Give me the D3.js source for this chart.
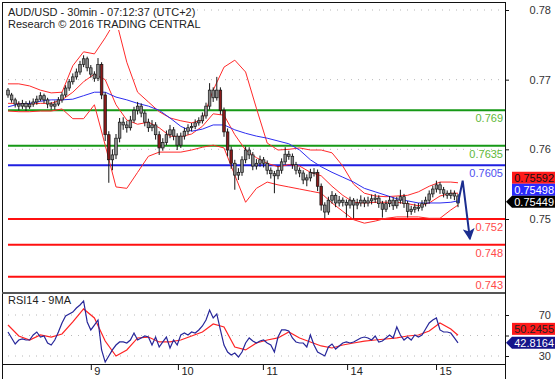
<!DOCTYPE html>
<html><head><meta charset="utf-8">
<script src="https://cdnjs.cloudflare.com/ajax/libs/d3/7.8.5/d3.min.js"></script>
<style>
html,body{margin:0;padding:0;background:#fff;}
svg{display:block;font-family:"Liberation Sans",Arial,sans-serif;}
</style></head>
<body><svg id="c" width="558" height="379"></svg>
<script>
// ---------- data ----------
const titleLines = ["AUD/USD - 30min - 07:12:37 (UTC+2)", "Research \u00A9 2016 TRADING CENTRAL"];
const rsiTitle = "RSI14 - 9MA";
const priceTicks = [0.75, 0.76, 0.77, 0.78];
const rsiTicks = [30, 50, 70];
const rsiTickLabels = [30, 70];
const dayTickIdx = [23, 47.2, 70.8, 94.2, 118.9];
const dayLabels = ["9", "10", "11", "14", "15"];

const open = [0.7685,0.7678,0.7671,0.7665,0.7662,0.7666,0.7661,0.7665,0.7668,0.7672,
0.7677,0.7671,0.7665,0.7662,0.7665,0.7671,0.7678,0.7688,0.7697,0.7704,
0.7711,0.7722,0.7730,0.7717,0.7708,0.7702,0.7722,0.7678,0.7621,0.7585,
0.7592,0.7616,0.7639,0.7635,0.7631,0.7642,0.7656,0.7662,0.7652,0.7639,
0.7631,0.7635,0.7621,0.7602,0.7610,0.7621,0.7628,0.7619,0.7606,0.7619,
0.7626,0.7631,0.7633,0.7638,0.7641,0.7648,0.7662,0.7685,0.7674,0.7685,
0.7656,0.7625,0.7599,0.7580,0.7563,0.7567,0.7585,0.7599,0.7592,0.7576,
0.7580,0.7585,0.7580,0.7570,0.7565,0.7562,0.7570,0.7582,0.7593,0.7590,
0.7578,0.7570,0.7566,0.7556,0.7559,0.7567,0.7567,0.7547,0.7520,0.7510,
0.7527,0.7534,0.7523,0.7527,0.7524,0.7520,0.7527,0.7520,0.7523,0.7527,
0.7523,0.7526,0.7529,0.7530,0.7522,0.7514,0.7522,0.7527,0.7519,0.7527,
0.7532,0.7522,0.7511,0.7514,0.7517,0.7517,0.7522,0.7527,0.7536,0.7543,
0.7549,0.7542,0.7537,0.7534,0.7537,0.7533];
const close = [0.7678,0.7671,0.7665,0.7662,0.7666,0.7661,0.7665,0.7668,0.7672,0.7677,
0.7671,0.7665,0.7662,0.7665,0.7671,0.7678,0.7688,0.7697,0.7704,0.7711,
0.7722,0.7730,0.7717,0.7708,0.7702,0.7722,0.7678,0.7621,0.7585,0.7592,
0.7616,0.7639,0.7635,0.7631,0.7642,0.7656,0.7662,0.7652,0.7639,0.7631,
0.7635,0.7621,0.7602,0.7610,0.7621,0.7628,0.7619,0.7606,0.7619,0.7626,
0.7631,0.7633,0.7638,0.7641,0.7648,0.7662,0.7685,0.7674,0.7685,0.7656,
0.7625,0.7599,0.7580,0.7563,0.7567,0.7585,0.7599,0.7592,0.7576,0.7580,
0.7585,0.7580,0.7570,0.7565,0.7562,0.7570,0.7582,0.7593,0.7590,0.7578,
0.7570,0.7566,0.7556,0.7559,0.7567,0.7567,0.7547,0.7520,0.7510,0.7527,
0.7534,0.7523,0.7527,0.7524,0.7520,0.7527,0.7520,0.7523,0.7527,0.7523,
0.7526,0.7529,0.7530,0.7522,0.7514,0.7522,0.7527,0.7519,0.7527,0.7532,
0.7522,0.7511,0.7514,0.7517,0.7517,0.7522,0.7527,0.7536,0.7543,0.7549,
0.7542,0.7537,0.7534,0.7537,0.7533,0.7523];
const high = [0.7688,0.7681,0.7674,0.7669,0.7671,0.7669,0.7670,0.7673,0.7677,0.7682,
0.7680,0.7674,0.7668,0.7670,0.7675,0.7682,0.7692,0.7701,0.7709,0.7716,
0.7727,0.7735,0.7733,0.7721,0.7712,0.7731,0.7725,0.7682,0.7626,0.7600,
0.7622,0.7645,0.7646,0.7641,0.7648,0.7661,0.7668,0.7666,0.7656,0.7644,
0.7642,0.7639,0.7626,0.7616,0.7627,0.7635,0.7632,0.7623,0.7624,0.7631,
0.7636,0.7638,0.7643,0.7646,0.7653,0.7667,0.7695,0.7689,0.7704,0.7689,
0.7660,0.7630,0.7604,0.7585,0.7573,0.7590,0.7604,0.7603,0.7596,0.7586,
0.7591,0.7589,0.7584,0.7574,0.7569,0.7576,0.7587,0.7603,0.7598,0.7594,
0.7582,0.7574,0.7570,0.7564,0.7572,0.7573,0.7571,0.7551,0.7524,0.7532,
0.7540,0.7537,0.7533,0.7531,0.7528,0.7532,0.7530,0.7529,0.7534,0.7531,
0.7532,0.7535,0.7536,0.7534,0.7526,0.7527,0.7533,0.7531,0.7532,0.7542,
0.7536,0.7526,0.7519,0.7522,0.7523,0.7527,0.7532,0.7541,0.7548,0.7555,
0.7553,0.7546,0.7541,0.7542,0.7541,0.7536];
const low = [0.7674,0.7667,0.7660,0.7656,0.7658,0.7655,0.7658,0.7661,0.7664,0.7669,
0.7666,0.7659,0.7657,0.7657,0.7662,0.7667,0.7675,0.7684,0.7693,0.7700,
0.7707,0.7718,0.7712,0.7703,0.7697,0.7698,0.7672,0.7612,0.7552,0.7570,
0.7586,0.7610,0.7628,0.7624,0.7627,0.7638,0.7650,0.7646,0.7633,0.7625,
0.7626,0.7614,0.7592,0.7598,0.7606,0.7616,0.7613,0.7599,0.7602,0.7614,
0.7621,0.7626,0.7629,0.7634,0.7637,0.7644,0.7657,0.7668,0.7670,0.7650,
0.7618,0.7590,0.7572,0.7542,0.7556,0.7562,0.7580,0.7586,0.7570,0.7571,
0.7575,0.7574,0.7564,0.7558,0.7537,0.7557,0.7565,0.7578,0.7585,0.7572,
0.7564,0.7560,0.7550,0.7547,0.7554,0.7561,0.7540,0.7512,0.7501,0.7506,
0.7522,0.7517,0.7518,0.7518,0.7502,0.7515,0.7501,0.7514,0.7518,0.7517,
0.7518,0.7521,0.7523,0.7516,0.7502,0.7510,0.7517,0.7513,0.7515,0.7522,
0.7516,0.7502,0.7506,0.7509,0.7511,0.7512,0.7518,0.7522,0.7531,0.7538,
0.7536,0.7531,0.7529,0.7529,0.7527,0.7517];

// indicator samples (every 3rd bar, plus the last one)
const bandIdx = [0,3,6,9,12,15,18,21,24,27,30,33,36,39,42,45,48,51,54,57,60,63,66,69,72,75,78,81,84,87,90,93,96,99,102,105,108,111,114,117,120,123,125];
const bbUpper = [0.7694,0.7694,0.7691,0.7685,0.7681,0.7682,0.7720,0.7740,0.7737,0.7760,
0.7786,0.7725,0.7682,0.7668,0.7654,0.7645,0.7641,0.7638,0.7642,0.7685,
0.7718,0.7728,0.7711,0.7659,0.7609,0.7599,0.7600,0.7602,0.7599,0.7599,
0.7595,0.7576,0.7550,0.7537,0.7533,0.7532,0.7533,0.7534,0.7539,0.7547,
0.7553,0.7553,0.7552];
const bbMiddle = [0.7666,0.7666,0.7665,0.7666,0.7666,0.7671,0.7682,0.7697,0.7708,0.7700,
0.7664,0.7642,0.7636,0.7639,0.7631,0.7619,0.7618,0.7622,0.7633,0.7651,
0.7649,0.7621,0.7599,0.7588,0.7580,0.7575,0.7578,0.7576,0.7567,0.7562,
0.7547,0.7534,0.7524,0.7523,0.7524,0.7524,0.7524,0.7522,0.7519,0.7523,
0.7533,0.7537,0.7537];
const bbLower = [0.7655,0.7654,0.7654,0.7655,0.7655,0.7658,0.7644,0.7644,0.7664,0.7606,
0.7546,0.7544,0.7567,0.7590,0.7596,0.7596,0.7596,0.7599,0.7603,0.7606,
0.7602,0.7563,0.7524,0.7544,0.7553,0.7549,0.7546,0.7543,0.7540,0.7537,
0.7523,0.7511,0.7499,0.7494,0.7497,0.7501,0.7503,0.7503,0.7503,0.7501,
0.7501,0.7513,0.7520];
const maBlue = [0.7661,0.7665,0.7666,0.7669,0.7671,0.7671,0.7672,0.7677,0.7682,0.7682,
0.7675,0.7671,0.7666,0.7662,0.7656,0.7645,0.7633,0.7626,0.7629,0.7635,
0.7635,0.7628,0.7623,0.7619,0.7616,0.7612,0.7608,0.7599,0.7585,0.7575,
0.7567,0.7560,0.7553,0.7544,0.7539,0.7534,0.7529,0.7526,0.7523,0.7523,
0.7523,0.7524,0.7526];

const rsi = [53.4,47.6,41.7,45.6,46.6,45.6,45.6,50.5,53.4,48.5,
49.5,42.7,40.7,45.6,53.4,62.2,69.0,71.0,72.9,76.8,
79.8,83.7,63.2,55.4,60.2,65.1,35.9,24.1,30.0,35.9,
40.7,43.7,43.7,42.7,45.6,52.4,45.6,47.6,49.5,48.5,
40.7,48.5,38.8,43.7,48.5,37.8,45.6,40.7,50.5,52.4,
50.5,53.4,52.4,55.4,59.3,65.1,74.9,67.1,71.0,55.4,
40.7,33.9,31.0,32.9,29.0,33.9,42.7,47.6,44.6,42.7,
44.6,45.6,42.7,40.7,33.9,48.5,55.4,55.4,54.4,47.6,
43.7,42.7,42.7,38.8,50.5,40.7,33.9,32.0,30.0,38.8,
41.7,36.8,39.8,42.7,43.7,42.7,43.7,45.6,47.6,48.5,
47.6,45.6,49.5,43.7,44.6,47.6,50.5,47.6,58.3,50.5,
45.6,48.5,45.6,50.5,48.5,50.5,56.3,62.2,65.1,67.1,
55.4,53.4,53.4,52.4,47.6,42.8];
const rsiMA = [60.2,49.5,45.6,50.5,48.5,51.5,63.2,75.9,67.1,44.6,
30.0,35.9,47.6,48.5,43.7,43.7,45.6,49.5,53.4,61.2,
58.3,38.8,35.9,42.7,45.6,47.6,53.4,47.6,43.7,39.8,
37.8,40.7,42.7,44.6,45.6,46.6,47.6,49.5,50.5,54.4,
62.2,56.3,50.2];

const levelLabels = ["0.769", "0.7635", "0.7605", "0.752", "0.748", "0.743"];
const levelAt = [0.7656, 0.7605, 0.7577, 0.7500, 0.7463, 0.7417];
const levelKind = ["res", "res", "pivot", "sup", "sup", "sup"];

const priceTagValues = [0.75592, 0.75498, 0.75449];
const priceTagKind = ["bbUpper", "ma", "last"];
const rsiTagValues = [50.2455, 42.8164];
const rsiTagKind = ["ma", "last"];

const forecastIdx = [125, 126.3, 128.3];
const forecastPrice = [0.7523, 0.7555, 0.7472];

// ---------- drawing ----------
const svg = d3.select("#c");
const W = 558, H = 379;
const axisX = 505, plotL = 3;
const mainTop = 2, mainBot = 292, rsiTop = 294, rsiBot = 364;

const x = d3.scaleLinear().domain([0, 125]).range([8, 458]);
const y = d3.scaleLinear().domain([0.75, 0.78]).range([219, 10]);
const yR = d3.scaleLinear().domain([30, 70]).range([356, 315]);

const kindColor = {res: "#169916", pivot: "#1f1fe0", sup: "#ff1010"};
const kindText = {res: "#5fb83a", pivot: "#5050f0", sup: "#ff4a4a"};

const defs = svg.append("defs");
defs.append("clipPath").attr("id", "clipMain").append("rect")
  .attr("x", plotL).attr("y", mainTop + 1).attr("width", axisX - plotL).attr("height", mainBot - mainTop - 1);
defs.append("clipPath").attr("id", "clipRsi").append("rect")
  .attr("x", plotL).attr("y", rsiTop + 1).attr("width", axisX - plotL).attr("height", rsiBot - rsiTop - 1);
defs.append("marker").attr("id", "ah").attr("viewBox", "0 0 12 12")
  .attr("refX", 10).attr("refY", 6).attr("markerWidth", 12).attr("markerHeight", 12)
  .attr("markerUnits", "userSpaceOnUse").attr("orient", "auto")
  .append("path").attr("d", "M0,0 L12,6 L0,12 L3,6 Z").attr("fill", "#1b2d8f");

// gridlines
const grid = svg.append("g");
grid.selectAll("line.pg").data(priceTicks).join("line")
  .attr("x1", 8).attr("x2", axisX).attr("y1", d => y(d)).attr("y2", d => y(d))
  .attr("stroke", "#b8b8b8").attr("stroke-dasharray", "1,6");
grid.selectAll("line.rg").data(rsiTicks).join("line")
  .attr("x1", 8).attr("x2", axisX).attr("y1", d => yR(d)).attr("y2", d => yR(d))
  .attr("stroke", "#b8b8b8").attr("stroke-dasharray", "1,6");

const main = svg.append("g").attr("clip-path", "url(#clipMain)");

// level lines
main.selectAll("line.lvl").data(levelAt).join("line")
  .attr("x1", 8).attr("x2", axisX).attr("y1", d => y(d)).attr("y2", d => y(d))
  .attr("stroke", (d, i) => kindColor[levelKind[i]]).attr("stroke-width", 2);

// bands & MA
const lineIdx = d3.line().x((d, i) => x(bandIdx[i])).y(d => y(d));
[bbUpper, bbMiddle, bbLower].forEach(arr => {
  main.append("path").attr("d", lineIdx(arr)).attr("fill", "none").attr("stroke", "#ff2a2a").attr("stroke-width", 1);
});
main.append("path").attr("d", lineIdx(maBlue)).attr("fill", "none").attr("stroke", "#2d2df0").attr("stroke-width", 1);

// candles
const idx = d3.range(close.length);
const cg = main.append("g");
cg.selectAll("line.w").data(idx).join("line")
  .attr("x1", i => x(i)).attr("x2", i => x(i))
  .attr("y1", i => y(high[i])).attr("y2", i => y(low[i]))
  .attr("stroke", "#151515").attr("stroke-width", 1);
cg.selectAll("rect.b").data(idx).join("rect")
  .attr("x", i => x(i) - 1.3).attr("width", 2.6)
  .attr("y", i => y(Math.max(open[i], close[i])))
  .attr("height", i => Math.max(1.2, Math.abs(y(open[i]) - y(close[i]))))
  .attr("fill", i => (open[i] - close[i] > 0.0018) ? "#8a1a1a" : "#8c8c8c")
  .attr("stroke", "#151515").attr("stroke-width", 0.7);

// forecast arrow
svg.append("path")
  .attr("d", d3.line().x((d, i) => x(forecastIdx[i])).y(d => y(d))(forecastPrice))
  .attr("fill", "none").attr("stroke", "#1b2d8f").attr("stroke-width", 2)
  .attr("marker-end", "url(#ah)");

// level labels
svg.selectAll("text.lvl").data(levelAt).join("text")
  .attr("x", axisX - 2).attr("y", d => y(d) + 12).attr("text-anchor", "end")
  .attr("font-size", 11).attr("fill", (d, i) => kindText[levelKind[i]])
  .text((d, i) => levelLabels[i]);

// RSI
const rsiG = svg.append("g").attr("clip-path", "url(#clipRsi)");
rsiG.append("path").attr("d", d3.line().x((d, i) => x(bandIdx[i])).y(d => yR(d))(rsiMA))
  .attr("fill", "none").attr("stroke", "#ff2424").attr("stroke-width", 1.2);
rsiG.append("path").attr("d", d3.line().x((d, i) => x(i)).y(d => yR(d))(rsi))
  .attr("fill", "none").attr("stroke", "#27279a").attr("stroke-width", 1.2);

// frames
svg.append("line").attr("x1", 2.5).attr("x2", 2.5).attr("y1", 2).attr("y2", H).attr("stroke", "#111");
svg.append("line").attr("x1", 2).attr("x2", axisX).attr("y1", 2.5).attr("y2", 2.5).attr("stroke", "#111");
svg.append("line").attr("x1", 2).attr("x2", axisX).attr("y1", 293).attr("y2", 293).attr("stroke", "#555").attr("stroke-width", 2);

// price axis
const pa = svg.append("g").attr("transform", `translate(${axisX},0)`)
  .call(d3.axisRight(y).tickValues(priceTicks).tickSize(4).tickSizeOuter(0).tickFormat(d3.format(".2f")));
pa.select(".domain").attr("d", `M0.5,2V${H}`).attr("stroke", "#111");
pa.selectAll(".tick line").attr("stroke", "#111");
pa.selectAll(".tick text").attr("x", 46).attr("text-anchor", "end")
  .attr("font-size", 11).attr("font-family", "Liberation Sans, Arial, sans-serif").attr("fill", "#333");

// rsi axis
const ra = svg.append("g").attr("transform", `translate(${axisX},0)`)
  .call(d3.axisRight(yR).tickValues(rsiTicks).tickSize(4).tickFormat(d => rsiTickLabels.includes(d) ? d : ""));
ra.select(".domain").remove();
ra.selectAll(".tick line").attr("stroke", "#111");
ra.selectAll(".tick text").attr("x", 46).attr("text-anchor", "end")
  .attr("font-size", 11).attr("font-family", "Liberation Sans, Arial, sans-serif").attr("fill", "#333");

// time axis
const ta = svg.append("g").attr("transform", `translate(0,${rsiBot})`)
  .call(d3.axisBottom(x).tickValues(dayTickIdx).tickSize(6).tickSizeOuter(0).tickFormat((d, i) => dayLabels[i]));
ta.select(".domain").attr("d", `M2,0.5H${axisX}`).attr("stroke", "#111");
ta.selectAll(".tick line").attr("stroke", "#111");
ta.selectAll(".tick text").attr("x", 3).attr("y", 3).attr("dy", "0.71em").attr("text-anchor", "start")
  .attr("font-size", 11).attr("font-family", "Liberation Sans, Arial, sans-serif").attr("fill", "#222");

// value tags
function tag(yc, label, fill, txt, arrow) {
  const g = svg.append("g");
  const x0 = 512, x1 = 555, h = 12;
  if (arrow) {
    g.append("path").attr("d", `M${axisX + 1},${yc} L${x0},${yc - h / 2} H${x1} V${yc + h / 2} H${x0} Z`).attr("fill", fill);
  } else {
    g.append("rect").attr("x", x0).attr("y", yc - h / 2).attr("width", x1 - x0).attr("height", h).attr("fill", fill);
  }
  g.append("text").attr("x", x1 - 1).attr("y", yc + 4).attr("text-anchor", "end")
    .attr("font-size", 11).attr("fill", txt).text(label);
}
const priceTagStyle = {bbUpper: ["#ff1a1a", "#111", false], ma: ["#2a2aff", "#fff", false], last: ["#000", "#fff", true]};
const firstTagY = y(priceTagValues[0]);
priceTagValues.forEach((v, i) => {
  const s = priceTagStyle[priceTagKind[i]];
  tag(firstTagY + 12 * i, d3.format(".5f")(v), s[0], s[1], s[2]);
});
const rsiTagStyle = {ma: ["#ff1a1a", "#222", false], last: ["#14148a", "#fff", true]};
const lastR = yR(rsiTagValues[1]);
tag(lastR - 14, d3.format(".4f")(rsiTagValues[0]), rsiTagStyle.ma[0], rsiTagStyle.ma[1], false);
tag(lastR, d3.format(".4f")(rsiTagValues[1]), rsiTagStyle.last[0], rsiTagStyle.last[1], true);

// titles with white backing
function label(tx, ty, s) {
  const g = svg.append("g");
  const t = g.append("text").attr("x", tx).attr("y", ty).attr("font-size", 11).attr("fill", "#222").text(s);
  const b = t.node().getBBox();
  g.insert("rect", "text").attr("x", b.x - 1).attr("y", b.y).attr("width", b.width + 2).attr("height", b.height).attr("fill", "#fff");
}
label(8, 16, titleLines[0]);
label(8, 28, titleLines[1]);
label(8, 304, rsiTitle);
</script></body></html>
